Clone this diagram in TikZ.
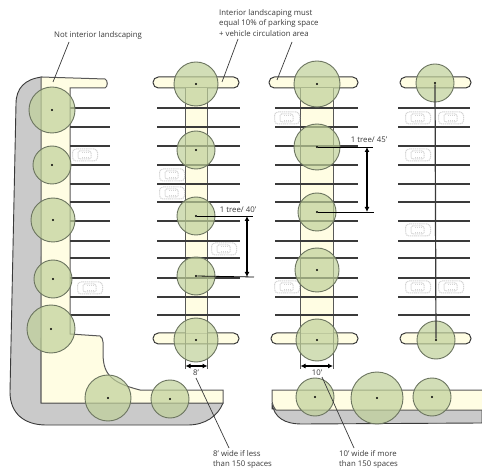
\documentclass[tikz,border=0pt]{standalone}
\usepackage{fontspec}
\setmainfont{Open Sans}
\usetikzlibrary{arrows.meta}
\definecolor{islandfill}{HTML}{FFFDE3}
\definecolor{pavegray}{HTML}{CACACA}
\definecolor{treefill}{HTML}{BFD099}
\definecolor{treeline}{HTML}{6C7560}
\definecolor{inkdark}{HTML}{3A3A3A}
\tikzset{
  treenode/.style={circle,draw=treeline,line width=0.9pt,fill=treefill,fill opacity=0.7,inner sep=0pt},
  dotnode/.style={circle,fill=black,inner sep=0pt,minimum size=2.2pt},
  stall/.style={draw=inkdark,line width=1.2pt},
  edgeline/.style={draw=inkdark!85,line width=1pt},
  capshape/.style={draw=inkdark,fill=islandfill,line width=1pt,rounded corners=5.4pt},
  leader/.style={draw=inkdark,line width=0.7pt},
  dimline/.style={draw=black,line width=1.2pt,{Latex[length=5pt,width=5pt]}-{Latex[length=5pt,width=5pt]}},
  thinline/.style={draw=black,line width=0.8pt},
  label/.style={font=\fontsize{7.8}{10.6}\selectfont,text=inkdark,inner sep=0pt,align=left},
  footlabel/.style={font=\fontsize{7.8}{9.6}\selectfont,text=inkdark,inner sep=0pt,align=left},
  carbody/.style={draw=black!17,dash pattern=on 1.2pt off 0.7pt,line width=1pt,rounded corners=3.5pt}
}
\newcommand{\tree}[4]{\node[treenode,minimum size=#4pt] (#1) at (#2,#3) {};\node[dotnode] (#1d) at (#2,#3) {};}
\newcommand{\car}[2]{%
  \draw[carbody] (#1-12.5,#2-6) rectangle (#1+12.5,#2+6);
  \draw[carbody,rounded corners=1.5pt] (#1-7,#2-4) rectangle (#1+6,#2+4);
  \draw[carbody] (#1-3,#2-2.5) -- (#1+3,#2-2.5) (#1-3,#2+2.5) -- (#1+3,#2+2.5);}
\newcommand{\stalls}[2]{\foreach \yy in {108,127,146,165,184,202,221,241,258,278,297,315} \draw[stall] (#1,\yy) -- (#2,\yy);}
\begin{document}
\begin{tikzpicture}[x=1pt,y=-1pt]
\useasboundingbox (0,0) rectangle (482,470);
\fill[white] (0,0) rectangle (482,470);
% left strip
\path[fill=pavegray,draw=inkdark,line width=0.9pt] (42,77) .. controls (25,79) and (16,88) .. (16,104)
  -- (10,392) .. controls (10,414) and (25,425) .. (46,425) -- (188,425) .. controls (205,425) and (218,416) .. (223,403) -- (41,403) -- cycle;
\path[fill=islandfill,edgeline] (41,77) -- (105,79) .. controls (108,80) and (108,87) .. (105,88)
  -- (70,88) -- (70,334) -- (100,336) .. controls (104,338) and (103,345) .. (103,352) .. controls (103,372) and (108,382) .. (140,390)
  -- (223,390) -- (223,403) -- (41,403) -- cycle;
% bottom right strip
\path[fill=pavegray,draw=inkdark,line width=0.9pt] (272,403) .. controls (274,418) and (285,424) .. (302,424) -- (482,423) -- (482,409) -- (272,409) -- cycle;
\path[fill=islandfill,edgeline] (482,390) -- (272,390) -- (272,400) .. controls (272,404) and (274,408) .. (276,410) -- (482,410);
% islands
\draw[capshape] (153,77) rectangle (239,88);
\draw[capshape] (153,333) rectangle (239,344);
\draw[capshape] (269,77) rectangle (358,88);
\draw[capshape] (271,333) rectangle (358,344);
\draw[capshape] (400,77) rectangle (471,88);
\draw[capshape] (400,333) rectangle (471,344);
\path[fill=islandfill] (186,88) rectangle (207,333);
\path[fill=islandfill] (301,88) rectangle (333,333);
\draw[edgeline] (185.5,88) -- (185.5,369) (207.5,88) -- (207.5,369);
\draw[edgeline] (300.5,88) -- (300.5,369) (333,88) -- (333,369);
% stalls
\stalls{70}{110}
\stalls{157}{240}
\stalls{275}{358}
\stalls{398}{470}
% cars
\car{85}{155}\car{90}{288}
\car{172}{175}\car{172}{193}\car{224}{249}
\car{287}{118}\car{287}{287}
\car{418}{118}\car{451}{118}\car{418}{155}\car{418}{230}\car{418}{287}\car{451}{287}
% trees
\tree{a}{52}{110}{46}\tree{b}{52}{165}{38}\tree{c}{53}{220}{44}\tree{d}{53}{279}{38}\tree{e}{51}{329}{48}
\tree{f}{108}{398}{46}\tree{g}{170}{399}{38}
\tree{h}{196}{84}{44}\tree{i}{196}{150}{38}\tree{j}{196}{216}{38}\tree{k}{196}{276}{38}\tree{l}{196}{340}{44}
\tree{m}{317}{84}{46}\tree{n}{317}{147}{46}\tree{o}{317}{212}{38}\tree{p}{317}{270}{44}\tree{q}{317}{340}{42}
\tree{r}{435}{83}{38}\tree{s}{436}{340}{38}
\tree{t}{315}{397}{38}\tree{u}{377}{398}{52}\tree{v}{432}{397}{38}
% centre line of the last row
\draw[stall] (rd) -- (sd);
% spacing dimensions
\coordinate (e1) at (253,216);\coordinate (e2) at (254,277);
\coordinate (e3) at (373,147);\coordinate (e4) at (374,212);
\draw[thinline] (jd) -- (e1);
\draw[thinline] (kd) -- (e2);
\draw[thinline] (nd) -- (e3);
\draw[thinline] (od) -- (e4);
\coordinate (a1) at (247,216);\coordinate (a2) at (247,277);
\coordinate (a3) at (367,147);\coordinate (a4) at (367,212);
\draw[dimline] (a1) -- (a2);
\draw[dimline] (a3) -- (a4);
\node[label] (l40) at (238,210) {1 tree/ 40'};
\node[label] (l45) at (369,140) {1 tree/ 45'};
% width dimensions
\coordinate (w1) at (185.5,366);\coordinate (w2) at (207.5,366);
\coordinate (w3) at (300.5,366);\coordinate (w4) at (333,366);
\draw[dimline] (w1) -- (w2);
\draw[dimline] (w3) -- (w4);
\node[label] (w8) at (196,373) {8'};
\node[label] (w10) at (317,373) {10'};
% labels and leaders
\node[label,anchor=west] (notint) at (54,35) {Not interior landscaping};
\node[label,anchor=north west] (intl) at (219,9) {Interior landscaping must\\equal 10\% of parking space\\+ vehicle circulation area};
\node[footlabel,anchor=north west] (w8t) at (213,450.5) {8' wide if less\\than 150 spaces};
\node[footlabel,anchor=north west] (w10t) at (339,450.5) {10' wide if more\\than 150 spaces};
\coordinate (p1) at (69,42);\coordinate (p2) at (53,82);
\coordinate (p3) at (238,39);\coordinate (p4) at (222,82);
\coordinate (p5) at (292,42);\coordinate (p6) at (277,80);
\coordinate (p7) at (196,378);\coordinate (p8) at (229,448);
\coordinate (p9) at (322,377);\coordinate (p10) at (354,448);
\draw[leader] (p1) -- (p2);
\draw[leader] (p3) -- (p4);
\draw[leader] (p5) -- (p6);
\draw[leader] (p7) -- (p8);
\draw[leader] (p9) -- (p10);
\end{tikzpicture}
\end{document}
